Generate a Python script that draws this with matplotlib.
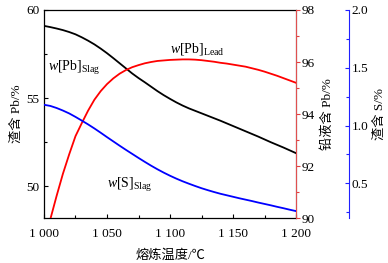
import matplotlib
matplotlib.use("Agg")
import matplotlib.pyplot as plt
from matplotlib.ticker import MultipleLocator

plt.rcParams['font.family'] = ['Liberation Serif', 'Noto Sans CJK SC']
plt.rcParams['mathtext.fontset'] = 'custom'
plt.rcParams['mathtext.rm'] = 'Liberation Serif'
plt.rcParams['mathtext.it'] = 'Liberation Serif:italic'
plt.rcParams['font.size'] = 9.5

# 熔炼温度 (°C)
temp = [1000, 1005, 1010, 1015, 1020, 1025, 1030, 1035, 1040, 1045, 1050,
        1055, 1060, 1065, 1070, 1075, 1080, 1085, 1090, 1095, 1100,
        1105, 1110, 1115, 1120, 1125, 1130, 1135, 1140, 1145, 1150,
        1155, 1160, 1165, 1170, 1175, 1180, 1185, 1190, 1195, 1200]
# 渣含 Pb (%)
pb_slag = [59.10, 59.03, 58.95, 58.86, 58.75, 58.62, 58.45, 58.26, 58.05, 57.81, 57.55,
           57.27, 56.98, 56.69, 56.40, 56.14, 55.90, 55.65, 55.40, 55.17, 54.96,
           54.76, 54.58, 54.42, 54.28, 54.14, 54.00, 53.86, 53.72, 53.57, 53.42,
           53.27, 53.12, 52.97, 52.82, 52.66, 52.50, 52.35, 52.20, 52.04, 51.88]
# 渣含 S (%)
s_slag = [1.18, 1.17, 1.152, 1.13, 1.105, 1.075, 1.043, 1.01, 0.975, 0.938, 0.90,
          0.863, 0.826, 0.79, 0.755, 0.72, 0.686, 0.653, 0.622, 0.593, 0.566,
          0.541, 0.518, 0.497, 0.477, 0.458, 0.441, 0.425, 0.41, 0.397, 0.384,
          0.371, 0.359, 0.347, 0.334, 0.322, 0.31, 0.297, 0.285, 0.272, 0.26]
# 铅液含 Pb (%)
temp_lead = temp[1:]
pb_lead = [89.95, 90.85, 91.70, 92.45, 93.15, 93.65, 94.13, 94.55, 94.88, 95.15,
           95.37, 95.55, 95.69, 95.80, 95.88, 95.95, 96.00, 96.04, 96.06, 96.08,
           96.09, 96.10, 96.10, 96.09, 96.07, 96.04, 96.01, 95.97, 95.94, 95.90,
           95.86, 95.82, 95.76, 95.70, 95.63, 95.55, 95.47, 95.38, 95.29, 95.20]

fig = plt.figure(figsize=(3.88, 2.63), dpi=100)
ax = fig.add_axes([0.1134, 0.171, 0.6495, 0.791])
ax2 = ax.twinx()
ax3 = ax.twinx()

ax.plot(temp, pb_slag, color='black', lw=1.3)
ax2.plot(temp_lead, pb_lead, color='#ff0000', lw=1.3)
ax3.plot(temp, s_slag, color='#0000ff', lw=1.3)

ax.set_xlim(1000, 1200)
ax.set_ylim(48.2, 60)
ax2.set_ylim(90, 98)
ax3.set_ylim(0.2, 2.0)

ax.set_xticks([1000, 1050, 1100, 1150, 1200])
ax.set_xticklabels(['1 000', '1 050', '1 100', '1 150', '1 200'])
ax.xaxis.set_minor_locator(MultipleLocator(25))
ax.set_yticks([50, 55, 60])
ax.yaxis.set_minor_locator(MultipleLocator(2.5))
ax.tick_params(which='both', direction='in', top=False, right=False, length=3, width=0.8)
ax.tick_params(which='minor', length=2)
ax.tick_params(axis='x', pad=7)

ax2.set_yticks([90, 92, 94, 96, 98])
ax2.yaxis.set_minor_locator(MultipleLocator(1))
ax2.tick_params(which='both', direction='out', color='#e04040', length=3, width=0.8, pad=1)
ax2.tick_params(which='minor', length=2)
ax2.spines['right'].set_color('#e05050')

ax3.spines['right'].set_position(('axes', 1.21))
ax3.spines['right'].set_color('#2020ff')
for s in ['top', 'left', 'bottom']:
    ax3.spines[s].set_visible(False)
ax3.set_yticks([0.5, 1.0, 1.5, 2.0])
ax3.set_yticklabels(['0.5', '1.0', '1.5', '2.0'])
ax3.yaxis.set_minor_locator(MultipleLocator(0.25))
ax3.tick_params(which='both', direction='in', color='#2020ff', length=3, width=0.8, pad=2)
ax3.tick_params(which='minor', length=2)

for sp in ['left', 'bottom', 'top']:
    ax.spines[sp].set_linewidth(0.9)
    ax2.spines[sp].set_visible(False)
ax.spines['top'].set_color('black')

ax.set_xlabel('熔炼温度/℃', labelpad=7)
ax.set_ylabel('渣含 Pb/%', labelpad=2)
ax2.set_ylabel('铅液含 Pb/%', labelpad=5)
ax3.set_ylabel('渣含 S/%', labelpad=4)

ax.text(1003, 56.7, r'$w$[Pb]$_{\mathrm{Slag}}$', ha='left', va='center', fontsize=10)
ax.text(1100, 57.8, r'$w$[Pb]$_{\mathrm{Lead}}$', ha='left', va='center', fontsize=10)
ax.text(1050, 50.1, r'$w$[S]$_{\mathrm{Slag}}$', ha='left', va='center', fontsize=10)

fig.savefig('out.png', dpi=100)
